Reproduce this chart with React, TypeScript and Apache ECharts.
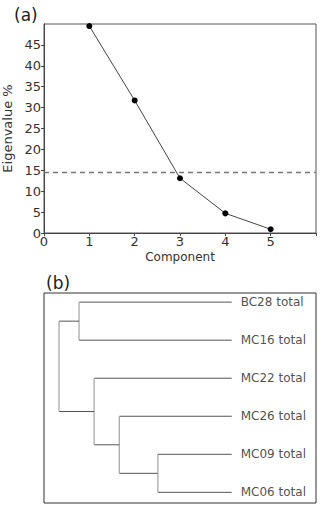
import React, { useEffect, useRef } from "react";
import * as echarts from "echarts";

const components = [1, 2, 3, 4, 5];
const eigenvalues = [49.5, 31.7, 13.1, 4.7, 0.9];
const threshold = 14.5;
const yTicksMax = 49.99;

const leaves = ["BC28 total", "MC16 total", "MC22 total", "MC26 total", "MC09 total", "MC06 total"];
// merges: [leftChild, rightChild, height]; children: leaf index (>=0) or -(merge index + 1)
const merges: [number, number, number][] = [
  [4, 5, 0.428],
  [3, -1, 0.651],
  [2, -2, 0.797],
  [0, 1, 0.884],
  [-4, -3, 1.0],
];

const FONT = "DejaVu Sans";

function buildDendro() {
  const pos: { y: number; h: number }[] = [];
  const get = (c: number) => (c >= 0 ? { y: c, h: 0 } : pos[-c - 1]);
  const items: number[][] = [];
  merges.forEach(([a, b, h]) => {
    const A = get(a);
    const B = get(b);
    items.push([h, A.y, B.y, A.h, B.h]);
    pos.push({ y: (A.y + B.y) / 2, h });
  });
  return items;
}

export default function App() {
  const ref = useRef<HTMLDivElement>(null);
  useEffect(() => {
    if (!ref.current) return;
    const chart = echarts.init(ref.current, null, { renderer: "svg" });
    const dendro = buildDendro();
    const axisColor = "#444";
    chart.setOption({
      animation: false,
      textStyle: { fontFamily: FONT },
      title: [
        { text: "(a)", left: 9, top: 1, textStyle: { fontFamily: FONT, fontSize: 17, fontWeight: "normal", color: "#222" } },
        { text: "(b)", left: 41, top: 269, textStyle: { fontFamily: FONT, fontSize: 17, fontWeight: "normal", color: "#222" } },
      ],
      grid: [
        { left: 44, right: 4, top: 24, bottom: 273, show: true, borderColor: "#555", borderWidth: 1, containLabel: false, outerBoundsMode: "none" },
        { left: 44, right: 4, top: 293, height: 210, show: true, borderColor: "#333", borderWidth: 1, containLabel: false, outerBoundsMode: "none" },
      ],
      xAxis: [
        {
          gridIndex: 0,
          type: "value",
          min: 0,
          max: 6,
          interval: 1,
          name: "Component",
          nameLocation: "middle",
          nameGap: 18,
          nameTextStyle: { fontFamily: FONT, fontSize: 12, color: "#333" },
          axisLine: { lineStyle: { color: axisColor } },
          axisTick: { length: 3, lineStyle: { color: axisColor } },
          axisLabel: {
            fontFamily: FONT,
            fontSize: 13,
            color: "#333",
            margin: 2,
            formatter: (v: number) => (v === 6 ? "" : String(v)),
          },
          splitLine: { show: false },
        },
        {
          gridIndex: 1,
          type: "value",
          inverse: true,
          min: -0.488,
          max: 1.087,
          show: false,
          splitLine: { show: false },
        },
      ],
      yAxis: [
        {
          gridIndex: 0,
          type: "value",
          min: 0,
          max: yTicksMax,
          interval: 5,
          name: "Eigenvalue %",
          nameLocation: "middle",
          nameGap: 28,
          nameTextStyle: { fontFamily: FONT, fontSize: 13, color: "#333" },
          axisLine: { show: true, lineStyle: { color: axisColor } },
          axisTick: { show: true, length: 3, lineStyle: { color: axisColor } },
          axisLabel: {
            fontFamily: FONT,
            fontSize: 13,
            color: "#333",
            margin: 3,
            showMaxLabel: false,
            formatter: (v: number) => (v > 45 ? "" : String(v)),
          },
          splitLine: { show: false },
        },
        {
          gridIndex: 1,
          type: "value",
          inverse: true,
          min: -0.24,
          max: 5.28,
          show: false,
          splitLine: { show: false },
        },
      ],
      series: [
        {
          type: "line",
          xAxisIndex: 0,
          yAxisIndex: 0,
          data: components.map((c, i) => [c, eigenvalues[i]]),
          symbol: "circle",
          symbolSize: 6,
          itemStyle: { color: "#000" },
          lineStyle: { color: "#444", width: 1 },
          markLine: {
            silent: true,
            symbol: "none",
            label: { show: false },
            lineStyle: { color: "#777", type: [5, 4], width: 1.3 },
            data: [{ yAxis: threshold }],
          },
        },
        {
          type: "custom",
          xAxisIndex: 1,
          yAxisIndex: 1,
          data: dendro,
          renderItem: (params: any, api: any) => {
            const h = api.value(0);
            const y1 = api.value(1);
            const y2 = api.value(2);
            const h1 = api.value(3);
            const h2 = api.value(4);
            const p1 = api.coord([h1, y1]);
            const q1 = api.coord([h, y1]);
            const q2 = api.coord([h, y2]);
            const p2 = api.coord([h2, y2]);
            const dark = { stroke: "#555", lineWidth: 1, fill: null };
            const light = { stroke: "#aaa", lineWidth: 1.3, fill: null };
            return {
              type: "group",
              children: [
                { type: "line", shape: { x1: p1[0], y1: p1[1], x2: q1[0], y2: q1[1] }, style: dark },
                { type: "line", shape: { x1: q2[0], y1: q2[1], x2: p2[0], y2: p2[1] }, style: dark },
                { type: "line", shape: { x1: q1[0], y1: q1[1], x2: q2[0], y2: q2[1] }, style: light },
              ],
            };
          },
        },
        {
          type: "scatter",
          xAxisIndex: 1,
          yAxisIndex: 1,
          symbolSize: 0,
          data: leaves.map((name, i) => ({ name, value: [0, i] })),
          label: {
            show: true,
            position: "right",
            distance: 9,
            formatter: (p: any) => p.name,
            fontFamily: FONT,
            fontSize: 12,
            color: "#222",
          },
        },
      ],
    });
    return () => chart.dispose();
  }, []);
  return <div ref={ref} style={{ width: 320, height: 506, position: "absolute", left: 0, top: 0 }} />;
}
